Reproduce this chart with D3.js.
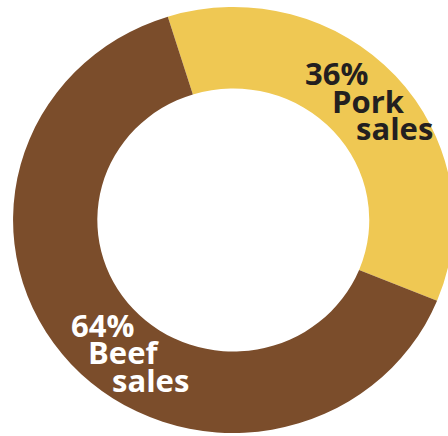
<!DOCTYPE html>
<html>
<head lang="en">
    <meta charset="UTF-8">
    <title>Beef and pork sales</title>
    <style>
        body { margin: 0; background: #fff; }
        text { font-family: "Open Sans", sans-serif; font-weight: bold; }
    </style>
</head>
<body>
<div id="chart"></div>
<script src="https://cdnjs.cloudflare.com/ajax/libs/d3/7.8.5/d3.min.js"></script>
<script>
// data
var categories = ["Pork", "Beef"];
var shares = [36, 64];
var colors = ["#EFC853", "#7B4D2B"];
var labelColors = ["#231F20", "#ffffff"];
var labelLines = [["36%", "Pork", "sales"], ["64%", "Beef", "sales"]];

var width = 448, height = 436;
var cx = 233.3, cy = 220;
var outerR = 213, innerR = 131.5;

var svg = d3.select("#chart").append("svg")
        .attr("width", width)
        .attr("height", height);

// the original ring is a touch wider than tall
var ring = svg.append("g")
        .attr("transform", "translate(" + cx + "," + cy + ") scale(1.034,1)");

var start = -17.3 * Math.PI / 180;
var pie = d3.pie()
        .sort(null)
        .startAngle(start)
        .endAngle(start + 2 * Math.PI);

var arc = d3.arc()
        .innerRadius(innerR)
        .outerRadius(outerR);

var data = categories.map(function (c, i) { return {name: c, value: shares[i]}; });

ring.selectAll("path")
        .data(pie.value(function (d) { return d.value; })(data))
        .enter().append("path")
        .attr("d", arc)
        .attr("fill", function (d, i) { return colors[i]; });

// labels sit staggered along the ring
var labelPos = [
    [[305, 85], [332, 113], [356, 140]],
    [[71, 337], [88, 364], [112, 392]]
];

labelLines.forEach(function (lines, i) {
    var g = svg.append("g");
    lines.forEach(function (t, j) {
        g.append("text")
            .attr("x", labelPos[i][j][0])
            .attr("y", labelPos[i][j][1])
            .attr("font-size", "31px")
            .attr("fill", labelColors[i])
            .text(t);
    });
});
</script>
</body>
</html>
